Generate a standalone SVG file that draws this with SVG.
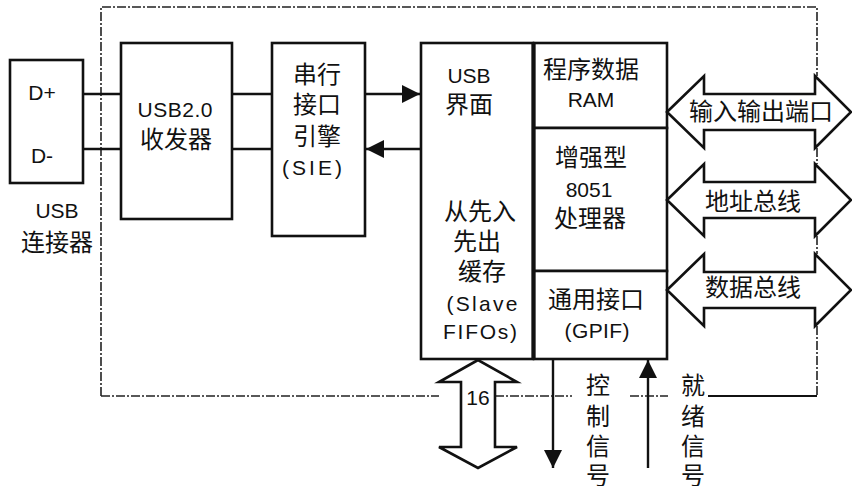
<svg xmlns="http://www.w3.org/2000/svg" width="852" height="486" viewBox="0 0 852 486">
<style>
.box{fill:#fff;stroke:#111;stroke-width:2.6}
.ln{fill:none;stroke:#111;stroke-width:2.4}
.bd{fill:none;stroke:#222;stroke-width:1.6;stroke-dasharray:9 2 2 2}
.dbl{fill:#fff;stroke:#111;stroke-width:2.6;stroke-linejoin:miter}
.t{font-family:"Liberation Sans","Noto Sans CJK SC",sans-serif;font-size:21px;fill:#111;text-anchor:middle}
.c{font-family:"Noto Sans CJK SC",sans-serif;font-size:24px;fill:#111;text-anchor:middle}
</style>
<defs>
<marker id="ah" viewBox="0 0 10 10" refX="10" refY="5" markerWidth="18" markerHeight="18" markerUnits="userSpaceOnUse" orient="auto">
<path d="M0,0 L10,5 L0,10 Z" fill="#111"/>
</marker>
</defs>
<rect width="852" height="486" fill="#fff"/>

<g id="boundary">
<path class="bd" d="M101,396 L101,7 L817,7 L817,76"/>
<path class="bd" d="M817,148 L817,164 M817,236 L817,254 M817,326 L817,396"/>
<path class="bd" d="M101,396 L439,396 M495,396 L572,396 M630,396 L668,396"/>
<path class="ln" d="M708,396 L817,396" style="stroke-width:1.8"/>
</g>

<g id="connectors">
<path class="ln" d="M83,94 L121,94"/>
<path class="ln" d="M83,149 L121,149"/>
<path class="ln" d="M232,94 L272,94"/>
<path class="ln" d="M232,149 L272,149"/>
<path class="ln" d="M365,94 L420,94" marker-end="url(#ah)"/>
<path class="ln" d="M421,149 L366,149" marker-end="url(#ah)"/>
<path class="ln" d="M553,359 L553,468" marker-end="url(#ah)"/>
<path class="ln" d="M648,468 L648,360" marker-end="url(#ah)"/>
</g>

<g id="usb-connector">
<rect class="box" x="10" y="60" width="73" height="123"/>
<text class="t" x="42" y="100">D+</text>
<text class="t" x="42" y="163">D-</text>
<text class="t" x="57" y="218">USB</text>
<text class="c" x="57" y="251">连接器</text>
</g>

<g id="transceiver">
<rect class="box" x="121" y="43" width="111" height="176"/>
<text class="t" x="175" y="117" textLength="75" lengthAdjust="spacing">USB2.0</text>
<text class="c" x="176" y="148">收发器</text>
</g>

<g id="sie">
<rect class="box" x="272" y="43" width="93" height="193"/>
<text class="c" x="317" y="83">串行</text>
<text class="c" x="317" y="113">接口</text>
<text class="c" x="317" y="145">引擎</text>
<text class="t" x="312" y="175" textLength="60" lengthAdjust="spacing">(SIE)</text>
</g>

<g id="usb-interface">
<rect class="box" x="421" y="43" width="112" height="316"/>
<text class="t" x="469" y="83">USB</text>
<text class="c" x="469" y="113">界面</text>
<text class="c" x="480" y="220">从先入</text>
<text class="c" x="477" y="250">先出</text>
<text class="c" x="482" y="280">缓存</text>
<text class="t" x="482" y="311" textLength="71" lengthAdjust="spacing">(Slave</text>
<text class="t" x="480" y="339" textLength="74" lengthAdjust="spacing">FIFOs)</text>
</g>

<g id="program-ram">
<rect class="box" x="534" y="43" width="133" height="85"/>
<text class="c" x="591" y="78">程序数据</text>
<text class="t" x="591" y="107">RAM</text>
</g>

<g id="cpu-8051">
<rect class="box" x="534" y="128" width="133" height="143"/>
<text class="c" x="591" y="166">增强型</text>
<text class="t" x="589" y="197">8051</text>
<text class="c" x="590" y="227">处理器</text>
</g>

<g id="gpif">
<rect class="box" x="534" y="271" width="133" height="88"/>
<text class="c" x="596" y="308">通用接口</text>
<text class="t" x="597" y="338" textLength="65" lengthAdjust="spacing">(GPIF)</text>
</g>
<path d="M533.5,43 L533.5,359" stroke="#111" stroke-width="4"/>

<g id="io-port">
<path class="dbl" d="M667,112 L704,76 L704,94 L815,94 L815,76 L851,112 L815,148 L815,130 L704,130 L704,148 Z"/>
<text class="c" x="761" y="120">输入输出端口</text>
</g>

<g id="address-bus">
<path class="dbl" d="M667,200 L704,164 L704,182 L815,182 L815,164 L851,200 L815,236 L815,218 L704,218 L704,236 Z"/>
<text class="c" x="753" y="210">地址总线</text>
</g>

<g id="data-bus">
<path class="dbl" d="M667,290 L704,254 L704,272 L815,272 L815,254 L851,290 L815,326 L815,308 L704,308 L704,326 Z"/>
<text class="c" x="753" y="296">数据总线</text>
</g>

<g id="bus-16">
<path class="dbl" d="M478,360 L439,382 L461,382 L461,447 L439,447 L478,468 L517,447 L495,447 L495,382 L517,382 Z"/>
<text class="t" x="478" y="405">16</text>
</g>

<g id="control-label">
<text class="c" x="598" y="394">控</text>
<text class="c" x="598" y="425">制</text>
<text class="c" x="598" y="455">信</text>
<text class="c" x="598" y="484">号</text>
</g>

<g id="ready-label">
<text class="c" x="693" y="394">就</text>
<text class="c" x="693" y="425">绪</text>
<text class="c" x="693" y="455">信</text>
<text class="c" x="693" y="484">号</text>
</g>
</svg>
